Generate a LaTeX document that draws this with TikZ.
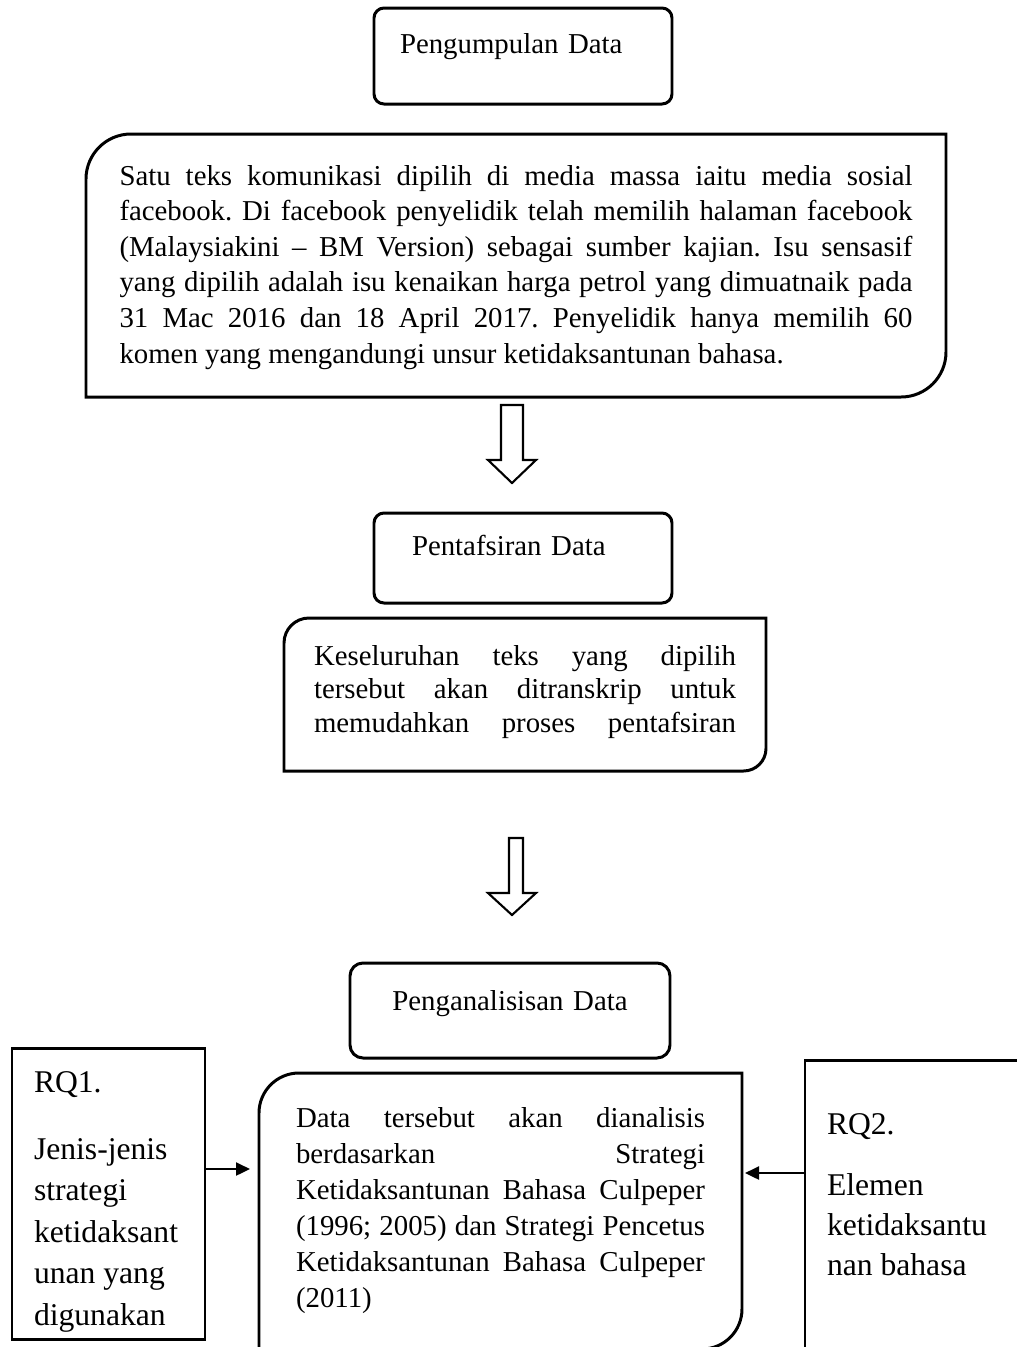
\documentclass[tikz,border=0pt]{standalone}
\usepackage{fontspec}
\setmainfont{Liberation Serif}
\usetikzlibrary{arrows.meta}

\newdimen\upx \upx=0.02cm
\hyphenpenalty=10000
\frenchspacing
\newcommand{\bodyfont}{\fontsize{16.4pt}{20.3pt}\selectfont}
\newcommand{\rqfont}{\fontsize{18pt}{23.6pt}\selectfont}
% frame with round top-left and bottom-right corners
\newcommand{\diagframe}[3]{%
  \draw[frame] (#1.south west) -- ([yshift=-#2]#1.north west)
    arc[start angle=180, end angle=90, radius=#2] -- (#1.north east)
    -- ([yshift=#3]#1.south east)
    arc[start angle=0, end angle=-90, radius=#3] -- cycle;}

\tikzset{
  frame/.style={line width=1.7pt},
  headbox/.style={draw, line width=1.7pt, anchor=north west, inner ysep=0pt, outer sep=0pt, align=left, font=\bodyfont},
  notebox/.style={anchor=north west, inner ysep=0pt, outer sep=0pt, font=\bodyfont},
  rqbox/.style={draw, line width=1.7pt, anchor=north west, inner ysep=0pt, outer sep=0pt, font=\rqfont},
  feed/.style={line width=1.3pt, -{Triangle[length=0.28cm,width=0.26cm]}},
  hollow/.style={line width=1.2pt, line join=miter}
}

\begin{document}
\begin{tikzpicture}[x=0.02cm, y=-0.02cm]
  \useasboundingbox (0,0) rectangle (1017,1347);
  \clip (0,0) rectangle (1017,1347);

  % stage 1
  \node[headbox, rounded corners=0.2cm, text width=246\upx, inner xsep=26\upx,
        text height=45\upx, text depth=51\upx] (collect) at (374,8) {Pengumpulan Data};
  \node[notebox, inner xsep=33.5\upx] (collectnote) at (86,134)
    {\begin{minipage}[t][263\upx][t]{793\upx}\vspace*{31\upx}%
     Satu teks komunikasi dipilih di media massa iaitu media sosial\linebreak
     facebook. Di facebook penyelidik telah memilih halaman facebook\linebreak
     (Malaysiakini – BM Version) sebagai sumber kajian. Isu sensasif\linebreak
     yang dipilih adalah isu kenaikan harga petrol yang dimuatnaik pada\linebreak
     31 Mac 2016 dan 18 April 2017. Penyelidik hanya memilih 60\linebreak
     komen yang mengandungi unsur ketidaksantunan bahasa.\end{minipage}};
  \diagframe{collectnote}{0.9cm}{0.9cm}

  \coordinate (drop1) at (512,405);
  \draw[hollow] (drop1) ++(-11,0) -- ++(0,55) -- ++(-13,0) -- ++(24,23)
    -- ++(24,-23) -- ++(-13,0) -- ++(0,-55) -- cycle;

  % stage 2
  \node[headbox, rounded corners=0.2cm, text width=222\upx, inner xsep=38\upx,
        text height=42\upx, text depth=48\upx] (interpret) at (374,513) {Pentafsiran Data};
  \node[notebox, inner xsep=30\upx] (interpretnote) at (284,618)
    {\fontsize{16.4pt}{19.1pt}\selectfont
     \begin{minipage}[t][153\upx][t]{422\upx}\parfillskip=0pt\vspace*{27\upx}%
     Keseluruhan teks yang dipilih\linebreak
     tersebut akan ditranskrip untuk\linebreak
     memudahkan proses pentafsiran\end{minipage}};
  \diagframe{interpretnote}{0.5cm}{0.45cm}

  \coordinate (drop2) at (512,838);
  \draw[hollow] (drop2) ++(-3,0) -- ++(0,55) -- ++(-21,0) -- ++(24,22)
    -- ++(24,-22) -- ++(-13,0) -- ++(0,-55) -- cycle;

  % stage 3
  \node[headbox, rounded corners=0.26cm, text width=280\upx, inner xsep=20\upx, align=center,
        text height=47\upx, text depth=48\upx] (analyse) at (350,963) {Penganalisisan Data};
  \node[notebox, inner xsep=37\upx] (analysenote) at (259,1073)
    {\fontsize{16.4pt}{20.5pt}\selectfont
     \begin{minipage}[t][276\upx][t]{409\upx}\vspace*{34\upx}%
     Data tersebut akan dianalisis\linebreak
     berdasarkan Strategi\linebreak
     Ketidaksantunan Bahasa Culpeper\linebreak
     (1996; 2005) dan Strategi Pencetus\linebreak
     Ketidaksantunan Bahasa Culpeper\linebreak
     (2011)\end{minipage}};
  \diagframe{analysenote}{0.8cm}{0.8cm}

  % research questions
  \node[rqbox, inner xsep=22\upx] (rqone) at (12,1048)
    {\begin{minipage}[t][291\upx][t]{149\upx}\raggedright\vspace*{24\upx}%
     RQ1.\\[25\upx]
     Jenis-jenis\\ strategi\\ ketidaksant\\ unan yang\\ digunakan\end{minipage}};
  \node[rqbox, inner xsep=22\upx] (rqtwo) at (805,1060)
    {\fontsize{18pt}{22.8pt}\selectfont
     \begin{minipage}[t][310\upx][t]{196\upx}\raggedright\vspace*{54\upx}%
     RQ2.\\[20\upx]
     Elemen\\ ketidaksantu\\ nan bahasa\end{minipage}};

  \coordinate (rqoneout) at ([yshift=0.49cm]rqone.east);
  \coordinate (rqtwoout) at ([yshift=0.84cm]rqtwo.west);
  \draw[feed, shorten >=0.18cm] (rqoneout) -- (rqoneout -| analysenote.west);
  \draw[feed, shorten >=0.06cm] (rqtwoout) -- (rqtwoout -| analysenote.east);
\end{tikzpicture}
\end{document}
